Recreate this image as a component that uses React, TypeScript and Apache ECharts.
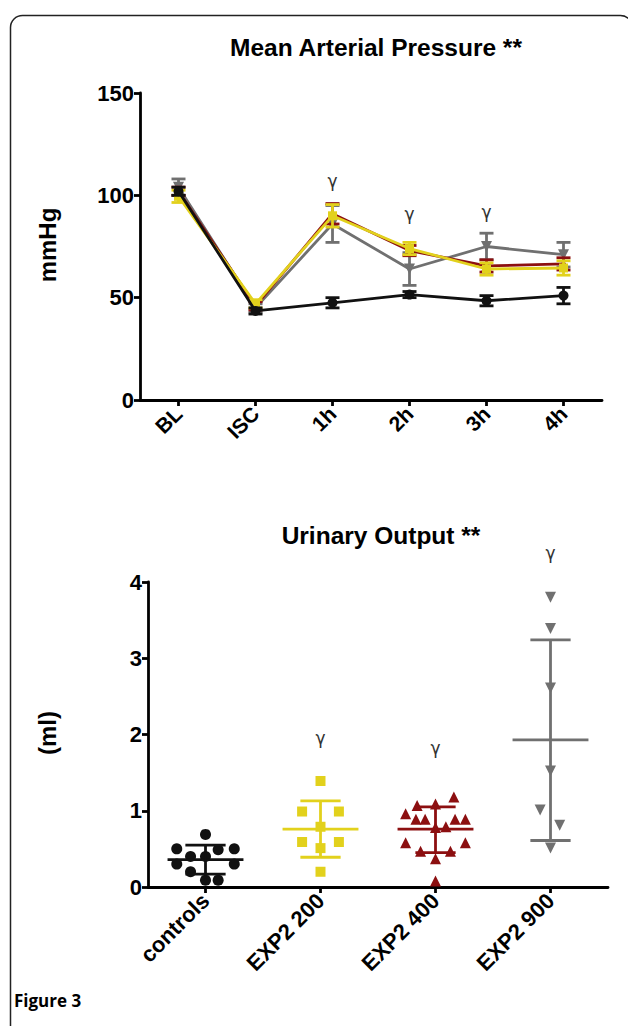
import React, { useEffect, useRef } from 'react';
import * as echarts from 'echarts';

// ---------- Mean Arterial Pressure (mmHg) ----------
const timePoints = ['BL', 'ISC', '1h', '2h', '3h', '4h'];
const mapControls = [102, 43.5, 47.5, 51.5, 48.5, 51];
const mapControlsErr = [2, 1.5, 2.5, 1.5, 2.5, 4];
const mapExp200 = [99.5, 47, 90, 74, 64, 64.5];
const mapExp200Err = [3, 2, 5.5, 3, 3, 3.5];
const mapExp400 = [102, 46, 91, 73, 65.5, 66.5];
const mapExp400Err = [2, 2, 5, 2.5, 3, 3];
const mapExp900 = [104, 45, 86, 64, 75, 71];
const mapExp900Err = [4, 2, 9, 8, 6.5, 6];
const mapGammaIdx = [2, 3, 4];
const mapGammaVal = [107, 91, 92];

// ---------- Urinary Output (ml) ----------
const groups = ['controls', 'EXP2 200', 'EXP2 400', 'EXP2 900'];
const uoControls = [0.69, 0.5, 0.49, 0.5, 0.4, 0.4, 0.3, 0.3, 0.2, 0.09, 0.09];
const uoControlsJitter = [0, -0.25, 0.11, 0.25, -0.13, 0, -0.25, 0.25, -0.13, 0, 0.11];
const uoExp200 = [1.39, 0.99, 0.99, 0.79, 0.59, 0.59, 0.51, 0.2];
const uoExp200Jitter = [0, -0.16, 0.16, 0, -0.16, 0.16, 0, 0];
const uoExp400 = [1.18, 1.07, 1.09, 0.96, 0.89, 0.89, 0.89, 0.89, 0.79, 0.78, 0.58, 0.58, 0.47, 0.47, 0.37, 0.08];
const uoExp400Jitter = [0.16, -0.16, 0, -0.26, -0.17, -0.09, 0.17, 0.26, 0.09, 0, -0.26, 0.26, -0.13, 0.13, 0, 0];
const uoExp900 = [3.8, 3.39, 2.61, 1.52, 1.01, 0.81, 0.51];
const uoExp900Jitter = [0, 0, 0, 0, -0.09, 0.08, 0];
const uoMean = [0.36, 0.76, 0.76, 1.93];
const uoSdLow = [0.17, 0.39, 0.45, 0.61];
const uoSdHigh = [0.55, 1.13, 1.05, 3.24];
const uoGammaIdx = [1, 2, 3];
const uoGammaVal = [1.95, 1.82, 4.38];

const BLACK = '#111111';
const YELLOW = '#e2d11c';
const RED = '#8c0f10';
const GRAY = '#707070';
const FONT = '"Liberation Sans", Arial, sans-serif';

function errBarSeries(vals: number[], errs: number[], color: string, z: number) {
  return {
    type: 'custom',
    xAxisIndex: 0,
    yAxisIndex: 0,
    z,
    encode: { x: 0, y: 1 },
    data: vals.map((v, i) => [i, v, errs[i]]),
    renderItem: (params: any, api: any) => {
      const x = api.value(0);
      const y = api.value(1);
      const e = api.value(2);
      const top = api.coord([x, y + e]);
      const bot = api.coord([x, y - e]);
      const hw = 7;
      const st = { stroke: color, lineWidth: 2.8 };
      return {
        type: 'group',
        children: [
          { type: 'line', shape: { x1: top[0], y1: top[1], x2: bot[0], y2: bot[1] }, style: st },
          { type: 'line', shape: { x1: top[0] - hw, y1: top[1], x2: top[0] + hw, y2: top[1] }, style: st },
          { type: 'line', shape: { x1: bot[0] - hw, y1: bot[1], x2: bot[0] + hw, y2: bot[1] }, style: st },
        ],
      };
    },
  };
}

function lineSeries(vals: number[], color: string, symbol: string, size: number, z: number, rotate = 0) {
  return {
    type: 'line',
    xAxisIndex: 0,
    yAxisIndex: 0,
    z,
    data: vals,
    symbol,
    symbolSize: size,
    symbolRotate: rotate,
    showSymbol: true,
    lineStyle: { color, width: 2.8 },
    itemStyle: { color },
  };
}

function scatterSeries(vals: number[], jit: number[], gi: number, color: string, symbol: string, size: number, rotate = 0) {
  return {
    type: 'scatter',
    xAxisIndex: 2,
    yAxisIndex: 1,
    z: 3,
    symbol,
    symbolSize: size,
    symbolRotate: rotate,
    itemStyle: { color, opacity: 1 },
    data: vals.map((v, i) => [gi + jit[i], v]),
  };
}

function gammaSeries(idx: number[], vals: number[], xi: number, yi: number) {
  return {
    type: 'custom',
    xAxisIndex: xi,
    yAxisIndex: yi,
    z: 5,
    clip: false,
    encode: { x: 0, y: 1 },
    data: idx.map((g, i) => [g, vals[i]]),
    renderItem: (params: any, api: any) => {
      const p = api.coord([api.value(0), api.value(1)]);
      return {
        type: 'text',
        x: p[0],
        y: p[1],
        style: {
          text: 'γ',
          fill: '#333333',
          font: '17px "DejaVu Sans", sans-serif',
          textAlign: 'center',
          textVerticalAlign: 'middle',
        },
      };
    },
  };
}

const colors = [BLACK, YELLOW, RED, GRAY];

export default function App() {
  const ref = useRef<HTMLDivElement>(null);
  useEffect(() => {
    if (!ref.current) return;
    const chart = echarts.init(ref.current, undefined, { renderer: 'svg' });
    const axisCommon = {
      axisLine: { show: true, onZero: false, lineStyle: { color: '#000', width: 2.8 } },
      axisTick: { show: true, length: 6, lineStyle: { color: '#000', width: 2.8 } },
      splitLine: { show: false },
      axisLabel: { color: '#000', fontWeight: 'bold', fontSize: 22, fontFamily: FONT, margin: 6 },
    };
    const option: any = {
      animation: false,
      backgroundColor: '#ffffff',
      title: [
        {
          text: 'Mean Arterial Pressure **',
          left: 371,
          top: 30,
          textAlign: 'center',
          textStyle: { fontFamily: FONT, fontWeight: 'bold', fontSize: 24.5, color: '#000' },
        },
        {
          text: 'Urinary Output **',
          left: 376,
          top: 518,
          textAlign: 'center',
          textStyle: { fontFamily: FONT, fontWeight: 'bold', fontSize: 24.5, color: '#000' },
        },
      ],
      grid: [
        { left: 140, top: 93, width: 462, height: 307 },
        { left: 148, top: 582, width: 460, height: 305 },
      ],
      xAxis: [
        {
          ...axisCommon,
          type: 'category',
          gridIndex: 0,
          data: timePoints,
          boundaryGap: true,
          axisTick: { ...axisCommon.axisTick, alignWithLabel: true },
          axisLabel: { ...axisCommon.axisLabel, rotate: 45, margin: 10, fontSize: 21 },
        },
        {
          ...axisCommon,
          type: 'category',
          gridIndex: 1,
          data: groups,
          boundaryGap: true,
          axisTick: { ...axisCommon.axisTick, alignWithLabel: true },
          axisLabel: { ...axisCommon.axisLabel, rotate: 45, margin: 10, fontSize: 22 },
        },
        { type: 'value', gridIndex: 1, min: -0.5, max: 3.5, show: false },
      ],
      yAxis: [
        {
          ...axisCommon,
          type: 'value',
          gridIndex: 0,
          min: 0,
          max: 150,
          interval: 50,
        },
        {
          ...axisCommon,
          type: 'value',
          gridIndex: 1,
          min: 0,
          max: 4,
          interval: 1,
        },
      ],
      graphic: [
        {
          type: 'rect',
          shape: { x: 10.5, y: 15.5, width: 622, height: 1100, r: 12 },
          style: { fill: 'none', stroke: '#222', lineWidth: 1.5 },
          silent: true,
        },
        {
          type: 'text',
          x: 47,
          y: 245,
          rotation: Math.PI / 2,
          style: { text: 'mmHg', font: `bold 24px ${FONT}`, fill: '#000', textAlign: 'center', textVerticalAlign: 'middle' },
        },
        {
          type: 'text',
          x: 47,
          y: 733,
          rotation: Math.PI / 2,
          style: { text: '(ml)', font: `bold 24px ${FONT}`, fill: '#000', textAlign: 'center', textVerticalAlign: 'middle' },
        },
        {
          type: 'text',
          x: 14,
          y: 1000,
          style: { text: 'Figure 3', font: `bold 17px "Open Sans", sans-serif`, fill: '#000', textVerticalAlign: 'middle' },
        },
      ],
      series: [
        // top chart
        errBarSeries(mapExp900, mapExp900Err, GRAY, 2),
        lineSeries(mapExp900, GRAY, 'triangle', 11, 2, 180),
        errBarSeries(mapExp400, mapExp400Err, RED, 3),
        lineSeries(mapExp400, RED, 'triangle', 10, 3),
        errBarSeries(mapExp200, mapExp200Err, YELLOW, 4),
        lineSeries(mapExp200, YELLOW, 'rect', 9, 4),
        errBarSeries(mapControls, mapControlsErr, BLACK, 5),
        lineSeries(mapControls, BLACK, 'circle', 10, 5),
        gammaSeries(mapGammaIdx, mapGammaVal, 0, 0),
        // bottom chart
        scatterSeries(uoControls, uoControlsJitter, 0, BLACK, 'circle', 11),
        scatterSeries(uoExp200, uoExp200Jitter, 1, YELLOW, 'rect', 10),
        scatterSeries(uoExp400, uoExp400Jitter, 2, RED, 'triangle', 11),
        scatterSeries(uoExp900, uoExp900Jitter, 3, GRAY, 'triangle', 11, 180),
        {
          type: 'custom',
          xAxisIndex: 2,
          yAxisIndex: 1,
          z: 4,
          encode: { x: 0, y: 1 },
          data: uoMean.map((m, i) => [i, m, uoSdLow[i], uoSdHigh[i]]),
          renderItem: (params: any, api: any) => {
            const i = api.value(0);
            const c = colors[i];
            const pm = api.coord([i, api.value(1)]);
            const pl = api.coord([i, api.value(2)]);
            const ph = api.coord([i, api.value(3)]);
            const band = api.size([1, 0])[0];
            const mw = band * 0.33;
            const cw = band * 0.175;
            const st = { stroke: c, lineWidth: 2.8 };
            return {
              type: 'group',
              children: [
                { type: 'line', shape: { x1: pm[0] - mw, y1: pm[1], x2: pm[0] + mw, y2: pm[1] }, style: st },
                { type: 'line', shape: { x1: ph[0], y1: ph[1], x2: pl[0], y2: pl[1] }, style: st },
                { type: 'line', shape: { x1: ph[0] - cw, y1: ph[1], x2: ph[0] + cw, y2: ph[1] }, style: st },
                { type: 'line', shape: { x1: pl[0] - cw, y1: pl[1], x2: pl[0] + cw, y2: pl[1] }, style: st },
              ],
            };
          },
        },
        gammaSeries(uoGammaIdx, uoGammaVal, 2, 1),
      ],
    };
    chart.setOption(option);
    return () => chart.dispose();
  }, []);
  return (
    <div
      ref={ref}
      style={{ position: 'fixed', left: 0, top: 0, width: 628, height: 1026, background: '#fff' }}
    />
  );
}
